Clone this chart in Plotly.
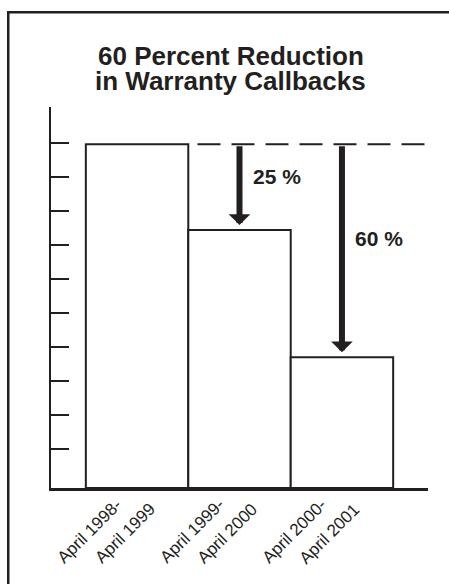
import plotly.graph_objects as go

# ---- data ----
TITLE_LINES = ["60 Percent Reduction", "in Warranty Callbacks"]
PERIOD_START = ["April 1998-", "April 1999-", "April 2000-"]
PERIOD_END = ["April 1999", "April 2000", "April 2001"]
CALLBACKS = [100, 75, 38]          # relative warranty callbacks
REDUCTION_LABELS = ["25 %", "60 %"]
TICK_VALUES = [11.3, 21.2, 31.1, 41.0, 50.9, 60.8, 70.7, 80.6, 90.5, 100.4]

INK = "#231f20"
FONT = "Liberation Sans, Arial, Helvetica, sans-serif"

categories = [f"{a} {b}" for a, b in zip(PERIOD_START, PERIOD_END)]

fig = go.Figure(
    go.Bar(
        x=categories,
        y=CALLBACKS,
        width=1,
        marker=dict(color="white", line=dict(color=INK, width=2)),
        hoverinfo="skip",
    )
)

annotations = []

# frame: a large bordered box whose right and bottom edges fall outside the picture
annotations.append(dict(
    xref="paper", yref="paper", x=-0.1175, y=1.2515,
    xanchor="left", yanchor="top", showarrow=False,
    text=" ", width=700, height=800, align="left",
    bordercolor=INK, borderwidth=2.5, borderpad=0,
    font=dict(size=1),
))

# title (two tight lines)
for line, ypos in zip(TITLE_LINES, [1.134, 1.068]):
    annotations.append(dict(
        xref="paper", yref="paper", x=0.477, y=ypos,
        xanchor="center", yanchor="middle", showarrow=False,
        text=f"<b>{line}</b>",
        font=dict(family=FONT, size=26, color=INK),
    ))

# arrows from the first period's level down to later bars
for i in (1, 2):
    annotations.append(dict(
        xref="x", yref="y", axref="x", ayref="y",
        x=i, y=CALLBACKS[i], ax=i, ay=CALLBACKS[0],
        text=" ", font=dict(size=1),
        showarrow=True, arrowhead=1, arrowsize=0.6, arrowwidth=6,
        arrowcolor=INK, standoff=5,
    ))

# reduction labels
for i, (lab, yv) in enumerate(zip(REDUCTION_LABELS, [90.7, 72.7]), start=1):
    annotations.append(dict(
        xref="x", yref="y", x=i, y=yv, xshift=11,
        xanchor="left", yanchor="middle", showarrow=False,
        text=f"<b>{lab}</b>",
        font=dict(family=FONT, size=21, color=INK),
    ))

# rotated two-line category labels
for i, cat in enumerate(categories):
    for txt, xs, ys in ((PERIOD_START[i], -48, -43), (PERIOD_END[i], -12, -45.5)):
        annotations.append(dict(
            xref="x", yref="paper", x=cat, y=0,
            xshift=xs, yshift=ys, textangle=-45,
            xanchor="center", yanchor="middle", showarrow=False,
            text=txt, font=dict(family=FONT, size=17, color=INK),
        ))

shapes = [
    # dashed reference line at the first period's level
    dict(type="line", xref="x", yref="y", x0=0.59, x1=2.81,
         y0=CALLBACKS[0], y1=CALLBACKS[0],
         line=dict(color=INK, width=2, dash="23px,11px")),
]

fig.update_layout(
    width=449, height=584,
    margin=dict(l=51, r=21, t=107, b=96, pad=0),
    paper_bgcolor="white", plot_bgcolor="white",
    bargap=0, showlegend=False,
    font=dict(family=FONT, color=INK),
    annotations=annotations, shapes=shapes,
    xaxis=dict(range=[-0.84, 2.84], showline=True, linewidth=2.5, linecolor=INK,
               showticklabels=False, ticks="", showgrid=False, zeroline=False),
    yaxis=dict(range=[0, 110.8], showline=True, linewidth=2, linecolor=INK,
               ticks="inside", ticklen=18, tickwidth=1.5, tickcolor=INK,
               tickmode="array", tickvals=TICK_VALUES, showticklabels=False,
               showgrid=False, zeroline=False),
)

fig.write_html(
    "out.html",
    config={"displayModeBar": False, "staticPlot": True},
    post_script=(
        "document.documentElement.style.overflow='hidden';"
        "document.body.style.margin='0';document.body.style.overflow='hidden';"
    ),
)
